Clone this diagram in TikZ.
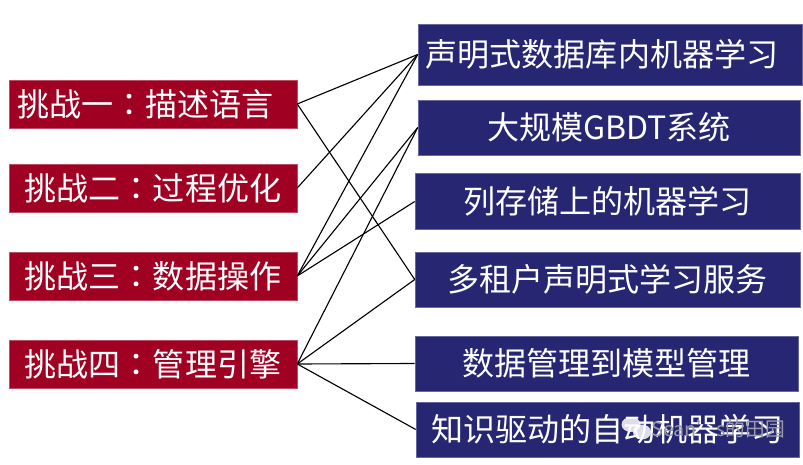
\documentclass[tikz,border=0pt]{standalone}
\usepackage{fontspec}
\setmainfont{Noto Sans CJK SC}
\newfontfamily\colonfont{Noto Sans CJK TC}
\definecolor{chalred}{HTML}{A00022}
\definecolor{appblue}{HTML}{262673}
\definecolor{markgray}{HTML}{9A9AA8}
\newcommand{\midcolon}{{\colonfont ：}}
\tikzset{
  chalbox/.style={fill=chalred,draw=chalred!70!white,line width=.3pt,text=white,inner sep=0pt,minimum width=7.2cm,minimum height=1.2cm,font=\fontsize{22.8}{26}\selectfont},
  appbox/.style={fill=appblue,draw=appblue!70!white,line width=.3pt,text=white,inner sep=0pt,minimum height=1.375cm,font=\fontsize{22.8}{26}\selectfont},
  linkline/.style={black,line width=.8pt}
}
\begin{document}
\begin{tikzpicture}[x=.025cm,y=-.025cm]
\useasboundingbox (0,0) rectangle (803,465);
\node[chalbox] (chal1) at (153,104) {\hspace*{-.1875cm}挑战一\midcolon 描述语言\hspace*{.1875cm}};
\node[chalbox] (chal2) at (153,188) {挑战二\midcolon 过程优化};
\node[chalbox] (chal3) at (153,276) {挑战三\midcolon 数据操作};
\node[chalbox] (chal4) at (153,364) {挑战四\midcolon 管理引擎};

\node[appbox,minimum width=9.6cm,minimum height=1.525cm] (app1) at (610,54.5) {\hspace*{-.2cm}\raisebox{-1.5pt}{声明式数据库内机器学习}\hspace*{.2cm}};
\node[appbox,minimum width=9.55cm] (app2) at (609,127.5) {大规模GBDT系统};
\node[appbox,minimum width=9.625cm,minimum height=1.4cm] (app3) at (607.5,201.5) {列存储上的机器学习};
\node[appbox,minimum width=9.625cm] (app4) at (607.5,279.5) {多租户声明式学习服务};
\node[appbox,minimum width=9.575cm] (app5) at (606.5,363.5) {数据管理到模型管理};
\node[appbox,minimum width=9.575cm] (app6) at (607.5,429.5) {知识驱动的自动机器学习};

\draw[linkline] (chal1.east) -- (app1.west);
\draw[linkline] (chal1.east) -- (app4.west);
\draw[linkline] (chal2.east) -- (app1.west);
\draw[linkline] (chal3.east) -- (app1.west);
\draw[linkline] (chal3.east) -- (app2.west);
\draw[linkline] (chal3.east) -- (app3.west);
\draw[linkline] (chal4.east) -- (app2.west);
\draw[linkline] (chal4.east) -- (app4.west);
\draw[linkline] (chal4.east) -- (app5.west);
\draw[linkline] (chal4.east) -- (app6.west);

% watermark
\fill[white,opacity=.85] (631,424.5) ellipse (9.5 and 7.5);
\fill[white,opacity=.85] (642,432) ellipse (9 and 7.5);
\node[text=markgray,inner sep=0pt,font=\fontsize{14}{16}\selectfont] (mark) at (718,429) {Sean's的田园};
\end{tikzpicture}
\end{document}
